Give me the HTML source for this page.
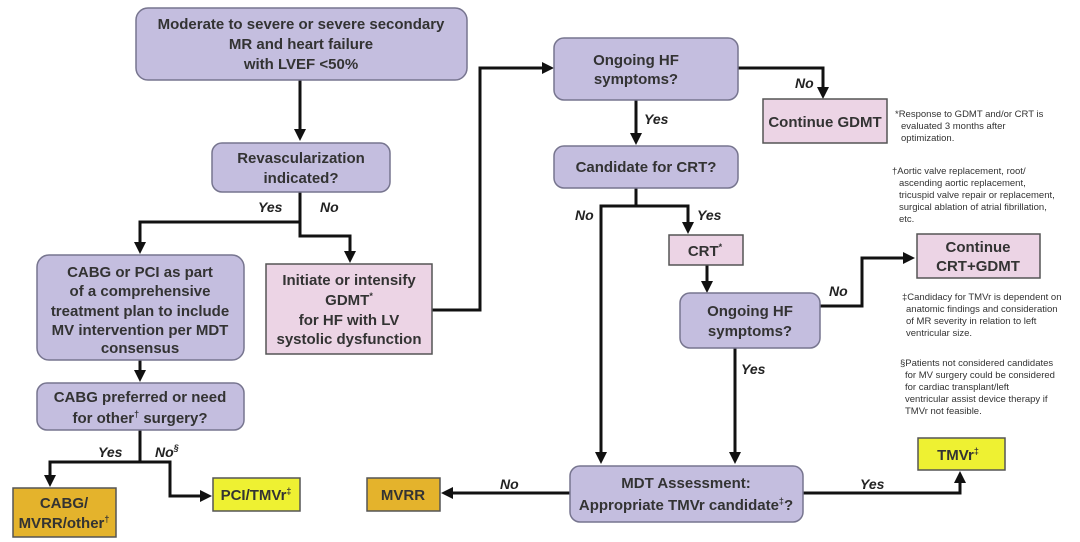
<!DOCTYPE html>
<html><head><meta charset="utf-8"><style>
body{margin:0;background:#fff;}
svg{display:block;font-family:"Liberation Sans",Arial,sans-serif;}
.p{fill:#c4bedf;stroke:#77758f;stroke-width:1.5}
.k{fill:#ecd4e5;stroke:#555;stroke-width:1.5}
.o{fill:#e4b32c;stroke:#555;stroke-width:1.5}
.y{fill:#eef132;stroke:#555;stroke-width:1.5}
.t{font-size:15px;font-weight:bold;fill:#333;text-anchor:middle}
.l{font-size:14px;font-weight:bold;font-style:italic;fill:#222}
.f{font-size:9.5px;fill:#333}
.c{fill:none;stroke:#111;stroke-width:3}
</style></head><body>
<svg width="1080" height="542" viewBox="0 0 1080 542">
<defs><marker id="a" markerWidth="12" markerHeight="12" refX="9" refY="6" orient="auto" markerUnits="userSpaceOnUse"><path d="M0,0 L12,6 L0,12 z" fill="#111"/></marker></defs>

<!-- connectors -->
<path class="c" d="M300,80 V138" marker-end="url(#a)"/>
<path class="c" d="M300,192 V222 H140 V251" marker-end="url(#a)"/>
<path class="c" d="M300,222 V236 H350 V260" marker-end="url(#a)"/>
<path class="c" d="M432,310 H480 V68 H551" marker-end="url(#a)"/>
<path class="c" d="M738,68 H823 V96" marker-end="url(#a)"/>
<path class="c" d="M636,100 V142" marker-end="url(#a)"/>
<path class="c" d="M636,188 V206 H601 V461" marker-end="url(#a)"/>
<path class="c" d="M636,206 H688 V231" marker-end="url(#a)"/>
<path class="c" d="M707,265 V290" marker-end="url(#a)"/>
<path class="c" d="M820,306 H862 V258 H912" marker-end="url(#a)"/>
<path class="c" d="M735,348 V461" marker-end="url(#a)"/>
<path class="c" d="M570,493 H444" marker-end="url(#a)"/>
<path class="c" d="M803,493 H960 V474" marker-end="url(#a)"/>
<path class="c" d="M140,360 V379" marker-end="url(#a)"/>
<path class="c" d="M140,430 V462 H50 V484" marker-end="url(#a)"/>
<path class="c" d="M140,462 H170 V496 H209" marker-end="url(#a)"/>

<!-- boxes -->
<rect class="p" x="136" y="8" width="331" height="72" rx="12"/>
<text class="t"><tspan x="301" y="29">Moderate to severe or severe secondary</tspan><tspan x="301" y="49">MR and heart failure</tspan><tspan x="301" y="69">with LVEF &lt;50%</tspan></text>

<rect class="p" x="212" y="143" width="178" height="49" rx="10"/>
<text class="t"><tspan x="301" y="163">Revascularization</tspan><tspan x="301" y="183">indicated?</tspan></text>

<rect class="p" x="37" y="255" width="207" height="105" rx="12"/>
<text class="t"><tspan x="140" y="277">CABG or PCI as part</tspan><tspan x="140" y="296">of a comprehensive</tspan><tspan x="140" y="316">treatment plan to include</tspan><tspan x="140" y="335">MV intervention per MDT</tspan><tspan x="140" y="353">consensus</tspan></text>

<rect class="p" x="37" y="383" width="207" height="47" rx="10"/>
<text class="t"><tspan x="140" y="402">CABG preferred or need</tspan><tspan x="140" y="423">for other<tspan font-size="9" dy="-6">†</tspan><tspan dy="6"> surgery?</tspan></tspan></text>

<rect class="o" x="13" y="488" width="103" height="49"/>
<text class="t"><tspan x="64" y="508">CABG/</tspan><tspan x="64" y="528">MVRR/other<tspan font-size="9" dy="-6">†</tspan></tspan></text>

<rect class="y" x="213" y="478" width="87" height="33"/>
<text class="t" x="256" y="500">PCI/TMVr<tspan font-size="9" dy="-6">‡</tspan></text>

<rect class="k" x="266" y="264" width="166" height="90"/>
<text class="t"><tspan x="349" y="285">Initiate or intensify</tspan><tspan x="349" y="305">GDMT<tspan font-size="9" dy="-6">*</tspan></tspan><tspan x="349" y="325">for HF with LV</tspan><tspan x="349" y="344">systolic dysfunction</tspan></text>

<rect class="p" x="554" y="38" width="184" height="62" rx="10"/>
<text class="t"><tspan x="636" y="65">Ongoing HF</tspan><tspan x="636" y="84">symptoms?</tspan></text>

<rect class="k" x="763" y="99" width="124" height="44"/>
<text class="t" x="825" y="127">Continue GDMT</text>

<rect class="p" x="554" y="146" width="184" height="42" rx="10"/>
<text class="t" x="646" y="172">Candidate for CRT?</text>

<rect class="k" x="669" y="235" width="74" height="30"/>
<text class="t" x="705" y="256">CRT<tspan font-size="9" dy="-6">*</tspan></text>

<rect class="k" x="917" y="234" width="123" height="44"/>
<text class="t"><tspan x="978" y="252">Continue</tspan><tspan x="978" y="271">CRT+GDMT</tspan></text>

<rect class="p" x="680" y="293" width="140" height="55" rx="10"/>
<text class="t"><tspan x="750" y="316">Ongoing HF</tspan><tspan x="750" y="336">symptoms?</tspan></text>

<rect class="p" x="570" y="466" width="233" height="56" rx="10"/>
<text class="t"><tspan x="686" y="488">MDT Assessment:</tspan><tspan x="686" y="510">Appropriate TMVr candidate<tspan font-size="9" dy="-6">‡</tspan><tspan dy="6">?</tspan></tspan></text>

<rect class="o" x="367" y="478" width="73" height="33"/>
<text class="t" x="403" y="500">MVRR</text>

<rect class="y" x="918" y="438" width="87" height="32"/>
<text class="t" x="958" y="460">TMVr<tspan font-size="9" dy="-6">‡</tspan></text>

<!-- labels -->
<text class="l" x="258" y="212">Yes</text>
<text class="l" x="320" y="212">No</text>
<text class="l" x="795" y="88">No</text>
<text class="l" x="644" y="124">Yes</text>
<text class="l" x="575" y="220">No</text>
<text class="l" x="697" y="220">Yes</text>
<text class="l" x="829" y="296">No</text>
<text class="l" x="741" y="374">Yes</text>
<text class="l" x="500" y="489">No</text>
<text class="l" x="860" y="489">Yes</text>
<text class="l" x="98" y="457">Yes</text>
<text class="l" x="155" y="457">No<tspan font-size="9" dy="-6">§</tspan></text>

<!-- footnotes -->
<text class="f"><tspan x="895" y="117">*Response to GDMT and/or CRT is</tspan><tspan x="901" y="129">evaluated 3 months after</tspan><tspan x="901" y="141">optimization.</tspan></text>
<text class="f"><tspan x="892" y="174">†Aortic valve replacement, root/</tspan><tspan x="899" y="186">ascending aortic replacement,</tspan><tspan x="899" y="198">tricuspid valve repair or replacement,</tspan><tspan x="899" y="210">surgical ablation of atrial fibrillation,</tspan><tspan x="899" y="222">etc.</tspan></text>
<text class="f"><tspan x="902" y="300">‡Candidacy for TMVr is dependent on</tspan><tspan x="906" y="312">anatomic findings and consideration</tspan><tspan x="906" y="324">of MR severity in relation to left</tspan><tspan x="906" y="336">ventricular size.</tspan></text>
<text class="f"><tspan x="900" y="366">§Patients not considered candidates</tspan><tspan x="905" y="378">for MV surgery could be considered</tspan><tspan x="905" y="390">for cardiac transplant/left</tspan><tspan x="905" y="402">ventricular assist device therapy if</tspan><tspan x="905" y="414">TMVr not feasible.</tspan></text>
</svg>
</body></html>
